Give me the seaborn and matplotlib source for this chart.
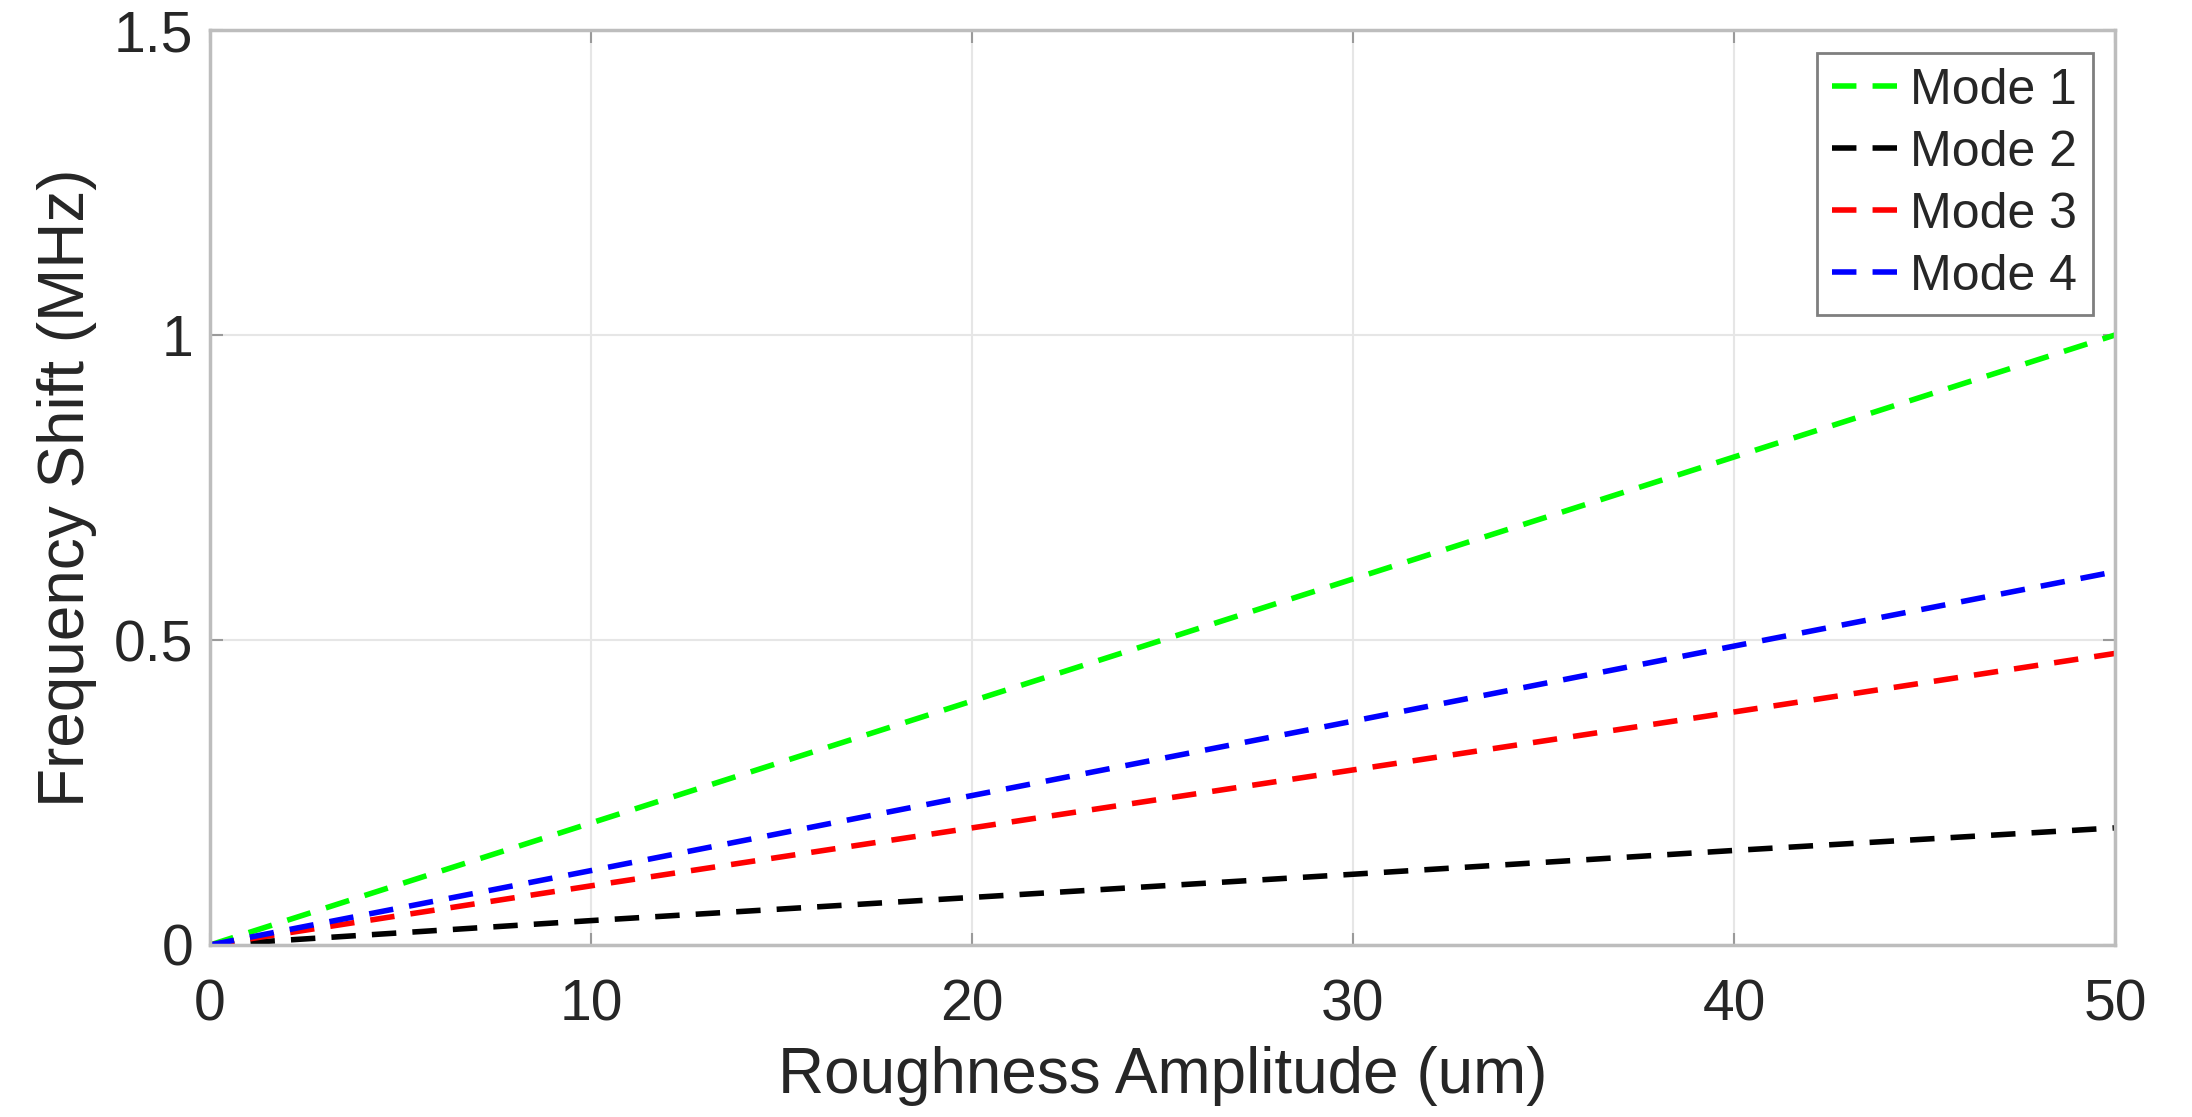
import numpy as np
import pandas as pd
import matplotlib
matplotlib.use("Agg")
import matplotlib.pyplot as plt
import seaborn as sns

roughness = [0, 10, 20, 30, 40, 50]
mode1 = [0, 0.20, 0.40, 0.60, 0.80, 1.00]
mode2 = [0, 0.040, 0.078, 0.116, 0.155, 0.192]
mode3 = [0, 0.097, 0.192, 0.287, 0.382, 0.478]
mode4 = [0, 0.122, 0.245, 0.367, 0.490, 0.612]
mode_names = ["Mode 1", "Mode 2", "Mode 3", "Mode 4"]
colors = ["#00ff00", "#000000", "#ff0000", "#0000ff"]

rows = []
for name, vals in zip(mode_names, [mode1, mode2, mode3, mode4]):
    for x, y in zip(roughness, vals):
        rows.append({"x": x, "y": y, "Mode": name})
df = pd.DataFrame(rows)

sns.set_theme(style="white")
plt.rcParams['font.family'] = ['Liberation Sans', 'DejaVu Sans']

fig = plt.figure(figsize=(21.92, 11.17), dpi=100)
ax = fig.add_axes([210/2192, 1 - 945/1117, (2115-210)/2192, (945-30)/1117])

DASH = [4.4, 2.9]
sns.lineplot(data=df, x="x", y="y", hue="Mode", palette=colors, ax=ax,
             linewidth=4, legend=False)
for line in ax.get_lines():
    line.set_dashes(DASH)

ax.set_xlim(0, 50)
ax.set_ylim(0, 1.5)
ax.set_xticks([0, 10, 20, 30, 40, 50])
ax.set_yticks([0, 0.5, 1, 1.5])
ax.set_yticklabels(["0", "0.5", "1", "1.5"])
ax.grid(True, color="#e6e6e6", linewidth=1.5)
ax.set_axisbelow(True)
for s in ax.spines.values():
    s.set_visible(True)
    s.set_color("#bdbdbd")
    s.set_linewidth(2.5)
ax.tick_params(axis="both", labelsize=41, labelcolor="#262626", color="#9a9a9a",
               direction="in", length=9, width=1.5,
               top=True, right=True, bottom=True, left=True)
ax.tick_params(axis="x", pad=24)
ax.tick_params(axis="y", pad=12)
ax.set_xlabel("Roughness Amplitude (um)", fontsize=46, color="#262626", labelpad=10)
ax.set_ylabel("Frequency Shift (MHz)", fontsize=46, color="#262626", labelpad=12)

from matplotlib.lines import Line2D
handles = [Line2D([0], [0], color=c, linewidth=4, dashes=DASH) for c in colors]
leg = ax.legend(handles, mode_names, loc="upper right", fontsize=36,
                frameon=True, fancybox=False, framealpha=1,
                edgecolor="#7f7f7f", handlelength=1.38, handletextpad=0.2,
                borderpad=0.3, labelspacing=0.32, borderaxespad=0.45)
leg.get_frame().set_linewidth(2)

fig.savefig("out.png", dpi=100)
